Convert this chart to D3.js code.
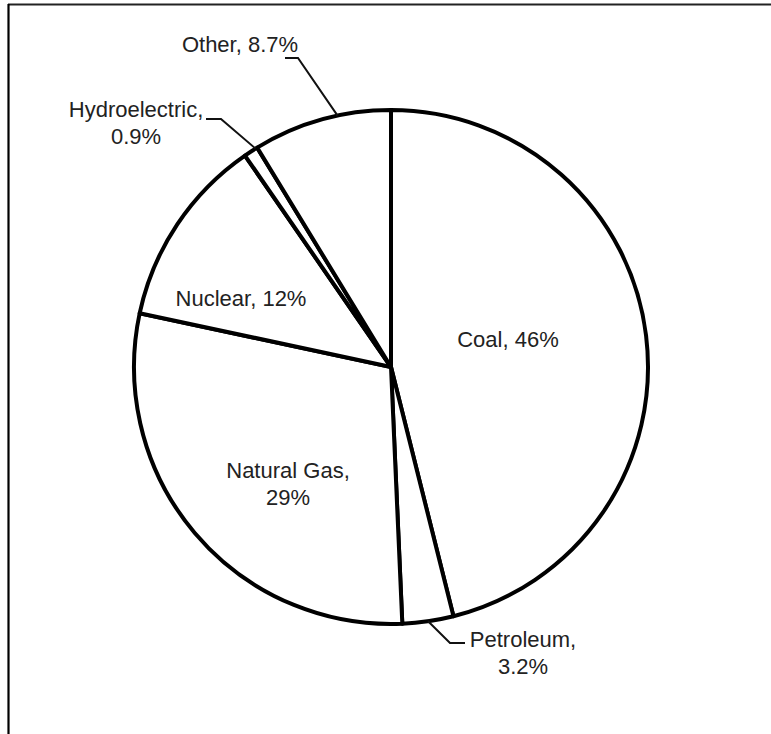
<!DOCTYPE html>
<html>
<head>
<meta charset="utf-8">
<script src="https://cdn.jsdelivr.net/npm/d3@7"></script>
<style>
  html, body { margin: 0; padding: 0; background: #fff; }
  svg { display: block; }
  text { font-family: Arial, "Liberation Sans", sans-serif; fill: #222; }
</style>
</head>
<body>
<script>
// Electricity generation by source (share, %)
const categories = ["Coal", "Petroleum", "Natural Gas", "Nuclear", "Hydroelectric", "Other"];
const shares = [46, 3.2, 29, 12, 0.9, 8.7];

const width = 771, height = 734;
const cx = 391, cy = 367, radius = 257;

// Label placement relative to the pie centre (px): dx = text centre, dy = first baseline.
// wrap: break the label after the comma; leader: elbow point and angle (deg) where it meets the rim.
const labelLayout = {
  "Coal":          { dx: 117,  dy: -20 },
  "Petroleum":     { dx: 132,  dy: 280, wrap: true,
                     leader: { x0: 74, x1: 59, y: 276, angle: null } },
  "Natural Gas":   { dx: -103, dy: 111, wrap: true },
  "Nuclear":       { dx: -150, dy: -61 },
  "Hydroelectric": { dx: -255, dy: -250, wrap: true,
                     leader: { x0: -185, x1: -170, y: -248, angle: 328.2 } },
  "Other":         { dx: -151, dy: -315,
                     leader: { x0: -106, x1: -93, y: -309, angle: 348 } }
};

const svg = d3.select("body").append("svg")
  .attr("width", width).attr("height", height);

svg.append("rect").attr("width", width).attr("height", height).attr("fill", "#fff");

// Frame (top and left edges)
svg.append("line").attr("x1", 8).attr("x2", width).attr("y1", 4.5).attr("y2", 4.5)
  .attr("stroke", "#222").attr("stroke-width", 2);
svg.append("line").attr("x1", 8.5).attr("x2", 8.5).attr("y1", 4).attr("y2", height)
  .attr("stroke", "#000").attr("stroke-width", 2.2);

const data = categories.map((c, i) => ({ name: c, value: shares[i] }));

const pie = d3.pie().sort(null).value(d => d.value)
  .startAngle(0).endAngle(2 * Math.PI);
const arcs = pie(data);

const arc = d3.arc().innerRadius(0).outerRadius(radius);

const g = svg.append("g").attr("transform", `translate(${cx},${cy})`);

g.selectAll("path.slice")
  .data(arcs)
  .join("path")
  .attr("class", "slice")
  .attr("d", arc)
  .attr("fill", "#fff")
  .attr("stroke", "#000")
  .attr("stroke-width", 4)
  .attr("stroke-linejoin", "round");

// Point on the rim at a given angle (radians, clockwise from 12 o'clock)
const rim = a => [radius * Math.sin(a), -radius * Math.cos(a)];

// Leader lines
arcs.forEach(a => {
  const L = labelLayout[a.data.name];
  if (!L || !L.leader) return;
  const ang = L.leader.angle == null ? (a.startAngle + a.endAngle) / 2 : L.leader.angle * Math.PI / 180;
  const [px, py] = rim(ang);
  g.append("path")
    .attr("d", d3.line()([[L.leader.x0, L.leader.y], [L.leader.x1, L.leader.y], [px, py]]))
    .attr("fill", "none")
    .attr("stroke", "#111")
    .attr("stroke-width", 2);
});

// Labels
const fmt = v => `${v}%`;
arcs.forEach(a => {
  const L = labelLayout[a.data.name];
  const lines = L.wrap
    ? [`${a.data.name},`, fmt(a.data.value)]
    : [`${a.data.name}, ${fmt(a.data.value)}`];
  const t = g.append("text")
    .attr("text-anchor", "middle")
    .attr("font-size", 22)
    .attr("x", L.dx).attr("y", L.dy);
  lines.forEach((s, i) => {
    t.append("tspan").attr("x", L.dx).attr("dy", i === 0 ? 0 : 27).text(s);
  });
});
</script>
</body>
</html>
